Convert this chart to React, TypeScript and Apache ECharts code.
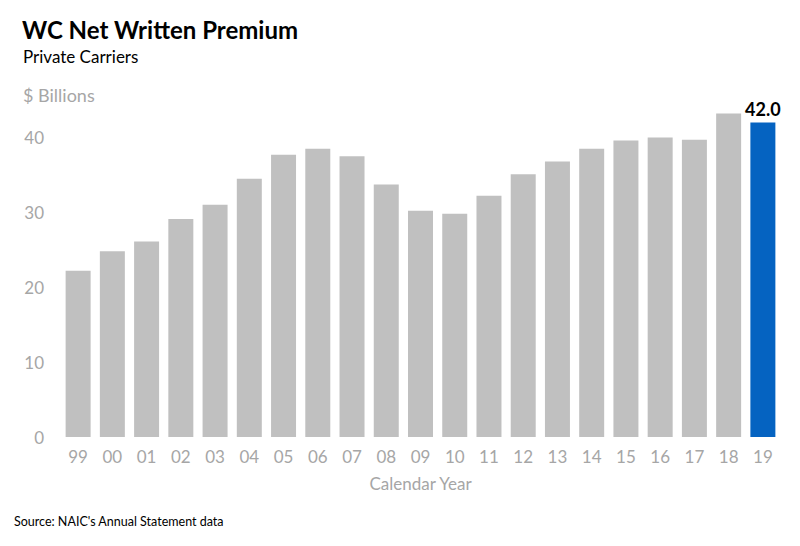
import React, { useEffect, useRef } from "react";
import * as echarts from "echarts";

const years = ["99","00","01","02","03","04","05","06","07","08","09","10","11","12","13","14","15","16","17","18","19"];
const premium = [22.2, 24.8, 26.1, 29.1, 31.0, 34.5, 37.7, 38.5, 37.5, 33.7, 30.2, 29.8, 32.2, 35.1, 36.8, 38.5, 39.6, 40.0, 39.7, 43.2, 42.0];
const yTicks = [0, 10, 20, 30, 40];

const FONT = "Lato, 'Open Sans', sans-serif";
const GRAY_TEXT = "#a6a6a6";

export default function App() {
  const ref = useRef<HTMLDivElement>(null);
  useEffect(() => {
    const chart = echarts.init(ref.current!, null, { renderer: "svg" });
    const last = premium.length - 1;
    chart.setOption({
      animation: false,
      backgroundColor: "#ffffff",
      grid: { left: 61, right: 20, top: 100, bottom: 109, containLabel: false },
      xAxis: {
        type: "category",
        data: years,
        axisLine: { show: false },
        axisTick: { show: false },
        axisLabel: { color: GRAY_TEXT, fontSize: 17, fontFamily: FONT, margin: 11 },
        name: "Calendar Year",
        nameLocation: "middle",
        nameGap: 38,
        nameTextStyle: { color: GRAY_TEXT, fontSize: 17, fontFamily: FONT },
      },
      yAxis: {
        type: "value",
        min: 0,
        max: 45,
        interval: 10,
        splitLine: { show: false },
        axisLine: { show: false },
        axisTick: { show: false },
        axisLabel: {
          color: GRAY_TEXT,
          fontSize: 17,
          fontFamily: FONT,
          margin: 17,
          formatter: (v: number) => (yTicks.includes(v) ? String(v) : ""),
        },
      },
      series: [
        {
          type: "bar",
          barCategoryGap: "27%",
          data: premium.map((v, i) => ({
            value: v,
            itemStyle: { color: i === last ? "#0563c1" : "#c0c0c0" },
            label:
              i === last
                ? {
                    show: true,
                    position: "top",
                    formatter: (p: any) => Number(p.value).toFixed(1),
                    color: "#000",
                    fontWeight: "bold",
                    fontSize: 18,
                    fontFamily: FONT,
                    distance: 4,
                  }
                : { show: false },
          })),
        },
      ],
      graphic: [
        { type: "text", left: 22, top: 17, style: { text: "WC Net Written Premium", fill: "#000", font: `bold 24px ${FONT}` } },
        { type: "text", left: 23, top: 48, style: { text: "Private Carriers", fill: "#000", font: `17px ${FONT}` } },
        { type: "text", left: 23, top: 86, style: { text: "$ Billions", fill: GRAY_TEXT, font: `18px ${FONT}` } },
        { type: "text", left: 14, top: 515, style: { text: "Source: NAIC's Annual Statement data", fill: "#000", font: `12.5px ${FONT}` } },
      ],
    });
    return () => chart.dispose();
  }, []);
  return <div ref={ref} style={{ width: 800, height: 546, position: "absolute", left: 0, top: 0 }} />;
}
